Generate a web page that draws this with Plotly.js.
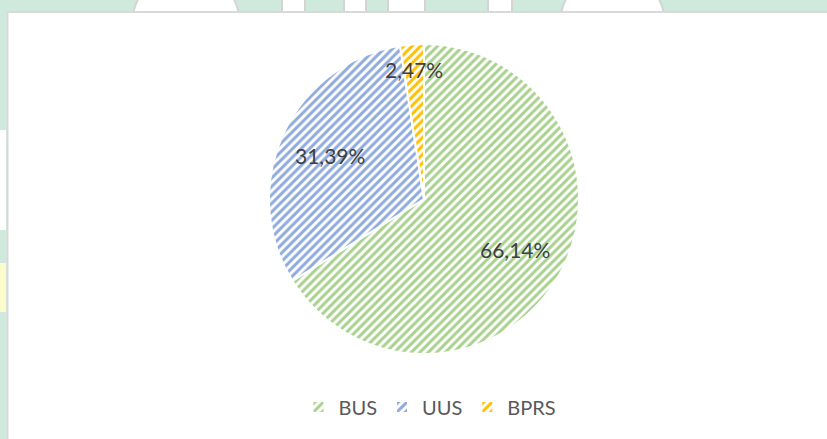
<!DOCTYPE html>
<html>
<head>
<meta charset="utf-8">
<script src="https://cdn.plot.ly/plotly-3.0.1.min.js"></script>
<style>html,body{margin:0;padding:0;background:#cfeadc;}#chart{width:827px;height:439px;}</style>
</head>
<body>
<div id="chart"></div>
<script>
// ---- data ----
const categories = ["BUS", "UUS", "BPRS"];
const shares = [66.14, 31.39, 2.47];
const colors = ["#a9d18e", "#8faadc", "#ffc000"];
// label radius (fraction of pie radius) per slice, as placed in the original
const labelRadius = [0.67, 0.67, 0.84];

// ---- geometry (pixels) ----
const W = 827, H = 439;
const cx = 424, cy = 199, R = 155;
const px = x => x / W, py = y => 1 - y / H;

const fmt = v => v.toFixed(2).replace('.', ',') + '%';

// compute label positions from slice mid-angles (clockwise from 12 o'clock)
const total = shares.reduce((a, b) => a + b, 0);
let cum = 0;
const annotations = shares.map((v, i) => {
  const mid = (cum + v / 2) / total * 2 * Math.PI;
  cum += v;
  const r = labelRadius[i] * R;
  const x = cx + Math.sin(mid) * r;
  const y = cy - Math.cos(mid) * r;
  return {
    xref: 'paper', yref: 'paper', x: px(x), y: py(y),
    xanchor: 'center', yanchor: 'middle', showarrow: false,
    text: fmt(v), font: {family: 'Lato, "Open Sans", sans-serif', size: 21, color: '#404040'}
  };
});

const trace = {
  type: 'pie',
  labels: categories,
  values: shares,
  sort: false,
  direction: 'clockwise',
  rotation: 0,
  textinfo: 'none',
  hoverinfo: 'label+percent',
  domain: {x: [px(cx - R), px(cx + R)], y: [py(cy + R), py(cy - R)]},
  marker: {
    colors: colors,
    line: {color: '#ffffff', width: 2},
    pattern: {shape: '/', fgcolor: colors, bgcolor: '#ffffff', size: 6, solidity: 0.5, fillmode: 'replace'}
  }
};

// watermark fragments visible around the white chart box
const wm = (x0, x1, y0, y1, fill) => ({
  type: 'rect', xref: 'paper', yref: 'paper', layer: 'below',
  x0: px(x0), x1: px(x1), y0: py(y1), y1: py(y0),
  fillcolor: fill || '#ffffff', line: {color: '#d4d4d4', width: 2}
});
const shapes = [
  {type: 'circle', xref: 'paper', yref: 'paper', layer: 'below',
   x0: px(132), x1: px(240), y0: py(80), y1: py(-30), fillcolor: '#ffffff', line: {color: '#d4d4d4', width: 2}},
  wm(282, 305, -5, 20), wm(344, 366, -5, 20), wm(388, 425, -5, 20),
  wm(488, 512, -5, 20),
  {type: 'circle', xref: 'paper', yref: 'paper', layer: 'below',
   x0: px(560), x1: px(665), y0: py(80), y1: py(-30), fillcolor: '#ffffff', line: {color: '#d4d4d4', width: 2}},
  {type: 'rect', xref: 'paper', yref: 'paper', layer: 'below',
   x0: -0.01, x1: px(6), y0: py(230), y1: py(130), fillcolor: '#ffffff', line: {width: 0}},
  {type: 'rect', xref: 'paper', yref: 'paper', layer: 'below',
   x0: -0.01, x1: px(6), y0: py(312), y1: py(263), fillcolor: '#fdfccc', line: {width: 0}},
  // white chart area with light grey border
  {type: 'rect', xref: 'paper', yref: 'paper', layer: 'below',
   x0: px(7.5), x1: 1.02, y0: -0.02, y1: py(12),
   fillcolor: '#ffffff', line: {color: '#d9d9d9', width: 2}}
];

const layout = {
  width: W, height: H, autosize: false,
  margin: {l: 0, r: 0, t: 0, b: 0},
  paper_bgcolor: '#cfeadc',
  plot_bgcolor: 'rgba(0,0,0,0)',
  showlegend: true,
  legend: {
    orientation: 'h', x: px(430), xanchor: 'center', y: py(407), yanchor: 'middle',
    font: {family: 'Lato, "Open Sans", sans-serif', size: 20, color: '#595959'},
    bgcolor: 'rgba(0,0,0,0)', traceorder: 'normal'
  },
  annotations: annotations,
  shapes: shapes
};

Plotly.newPlot('chart', [trace], layout, {displayModeBar: false, staticPlot: true});
</script>
</body>
</html>
